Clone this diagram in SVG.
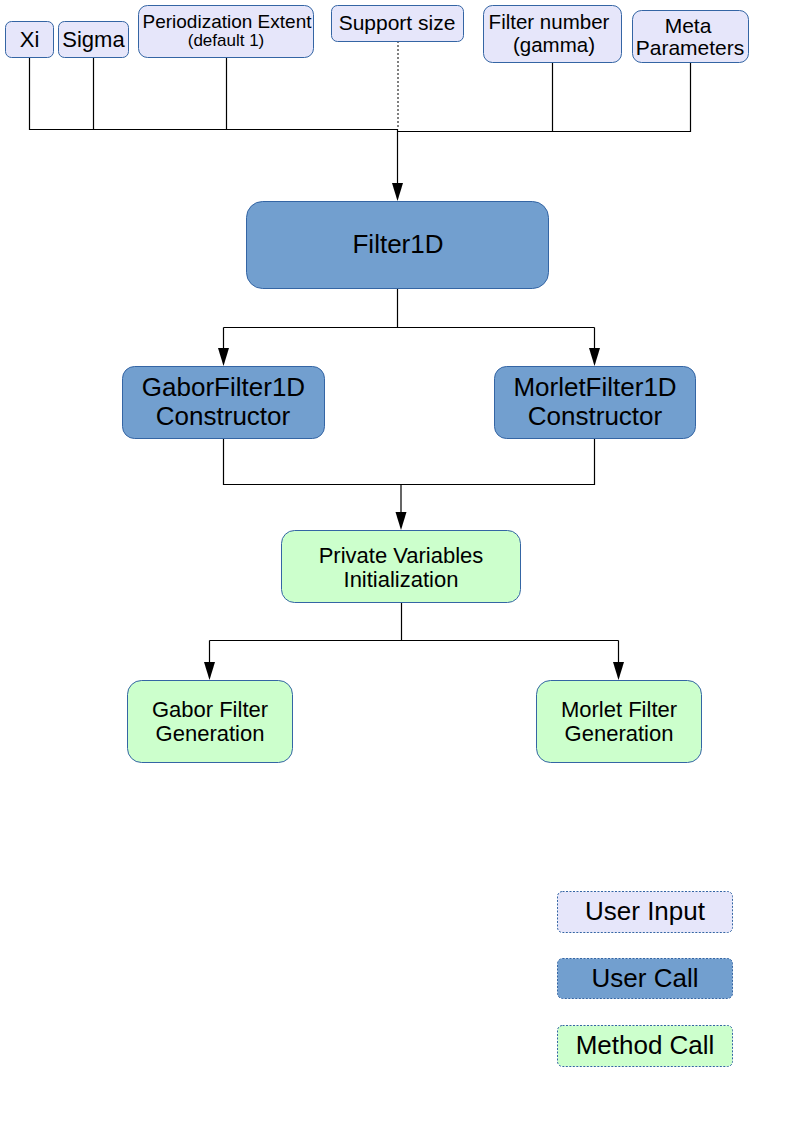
<svg xmlns="http://www.w3.org/2000/svg" width="794" height="1123" viewBox="0 0 794 1123">
<style>
.input{fill:#e6e6fa;stroke:#3465a4;stroke-width:1}
.call{fill:#729fcf;stroke:#3465a4;stroke-width:1}
.method{fill:#ccffcc;stroke:#3465a4;stroke-width:1}
.leg{stroke-dasharray:2 1.5}
.t{font-family:"Liberation Sans",Arial,sans-serif;fill:#000;text-anchor:middle}
.wire{fill:none;stroke:#000;stroke-width:1.2}
.dot{fill:none;stroke:#000;stroke-width:1;stroke-dasharray:2 2}
</style>
<rect width="794" height="1123" fill="#fff"/>
<g id="connectors">
<path class="wire" d="M29.5 57V129.5H398M93.5 57V129.5M226.5 57V129.5"/>
<path class="wire" d="M398 131.5H690.5V62M552.5 62V131.5"/>
<path class="dot" d="M398 41V129"/>
<path class="wire" d="M397.5 129V186"/>
<polygon points="392,183 403,183 397.5,201"/>
<path class="wire" d="M397.5 288V327.5M223.5 327.5H594.5M223.5 327.5V350M594.5 327.5V350"/>
<polygon points="218,348 229,348 223.5,366"/>
<polygon points="589,348 600,348 594.5,366"/>
<path class="wire" d="M223.5 438V484.5H594.5V438M401 484.5V515"/>
<polygon points="395.5,512 406.5,512 401,530"/>
<path class="wire" d="M401.5 602V640.5M209.5 640.5H618.5M209.5 640.5V665M618.5 640.5V665"/>
<polygon points="204,662 215,662 209.5,680"/>
<polygon points="613,662 624,662 618.5,680"/>
</g>
<g id="xi"><rect class="input" x="5.5" y="21.5" width="48" height="36" rx="6"/><text class="t" x="29.5" y="47" font-size="22">Xi</text></g>
<g id="sigma"><rect class="input" x="58.5" y="21.5" width="70" height="36" rx="6"/><text class="t" x="93.5" y="47" font-size="22">Sigma</text></g>
<g id="periodization"><rect class="input" x="138.5" y="5.5" width="175" height="52" rx="9"/><text class="t" x="227" y="28" font-size="19">Periodization Extent</text><text class="t" x="226" y="46" font-size="17">(default 1)</text></g>
<g id="support"><rect class="input" x="331.5" y="5.5" width="132" height="36" rx="6"/><text class="t" x="397" y="30" font-size="21">Support size</text></g>
<g id="filternumber"><rect class="input" x="483.5" y="5.5" width="138" height="57" rx="9"/><text class="t" x="549" y="29" font-size="20.5">Filter number</text><text class="t" x="554" y="52" font-size="20.5">(gamma)</text></g>
<g id="meta"><rect class="input" x="632.5" y="10.5" width="116" height="52" rx="9"/><text class="t" x="688" y="33" font-size="21">Meta</text><text class="t" x="690" y="55" font-size="21">Parameters</text></g>
<g id="filter1d"><rect class="call" x="246.5" y="201.5" width="302" height="87" rx="16"/><text class="t" x="398" y="253" font-size="26">Filter1D</text></g>
<g id="gabor1d"><rect class="call" x="122.5" y="366.5" width="202" height="72" rx="12"/><text class="t" x="223.5" y="396" font-size="26">GaborFilter1D</text><text class="t" x="223" y="425" font-size="26">Constructor</text></g>
<g id="morlet1d"><rect class="call" x="494.5" y="366.5" width="201" height="72" rx="12"/><text class="t" x="595" y="396" font-size="26">MorletFilter1D</text><text class="t" x="595" y="425" font-size="26">Constructor</text></g>
<g id="private"><rect class="method" x="281.5" y="530.5" width="239" height="72" rx="13"/><text class="t" x="401" y="563" font-size="22">Private Variables</text><text class="t" x="401" y="587" font-size="22">Initialization</text></g>
<g id="gaborgen"><rect class="method" x="127.5" y="680.5" width="165" height="82" rx="14"/><text class="t" x="210" y="717" font-size="22">Gabor Filter</text><text class="t" x="210" y="741" font-size="22">Generation</text></g>
<g id="morletgen"><rect class="method" x="536.5" y="680.5" width="165" height="82" rx="14"/><text class="t" x="619" y="717" font-size="22">Morlet Filter</text><text class="t" x="619" y="741" font-size="22">Generation</text></g>
<g id="legend-input"><rect class="input leg" x="557.5" y="891.5" width="175" height="41" rx="5"/><text class="t" x="645" y="920" font-size="26">User Input</text></g>
<g id="legend-call"><rect class="call leg" x="557.5" y="958.5" width="175" height="40" rx="5"/><text class="t" x="645" y="987" font-size="26">User Call</text></g>
<g id="legend-method"><rect class="method leg" x="557.5" y="1025.5" width="175" height="41" rx="5"/><text class="t" x="645" y="1054" font-size="26">Method Call</text></g>
</svg>
